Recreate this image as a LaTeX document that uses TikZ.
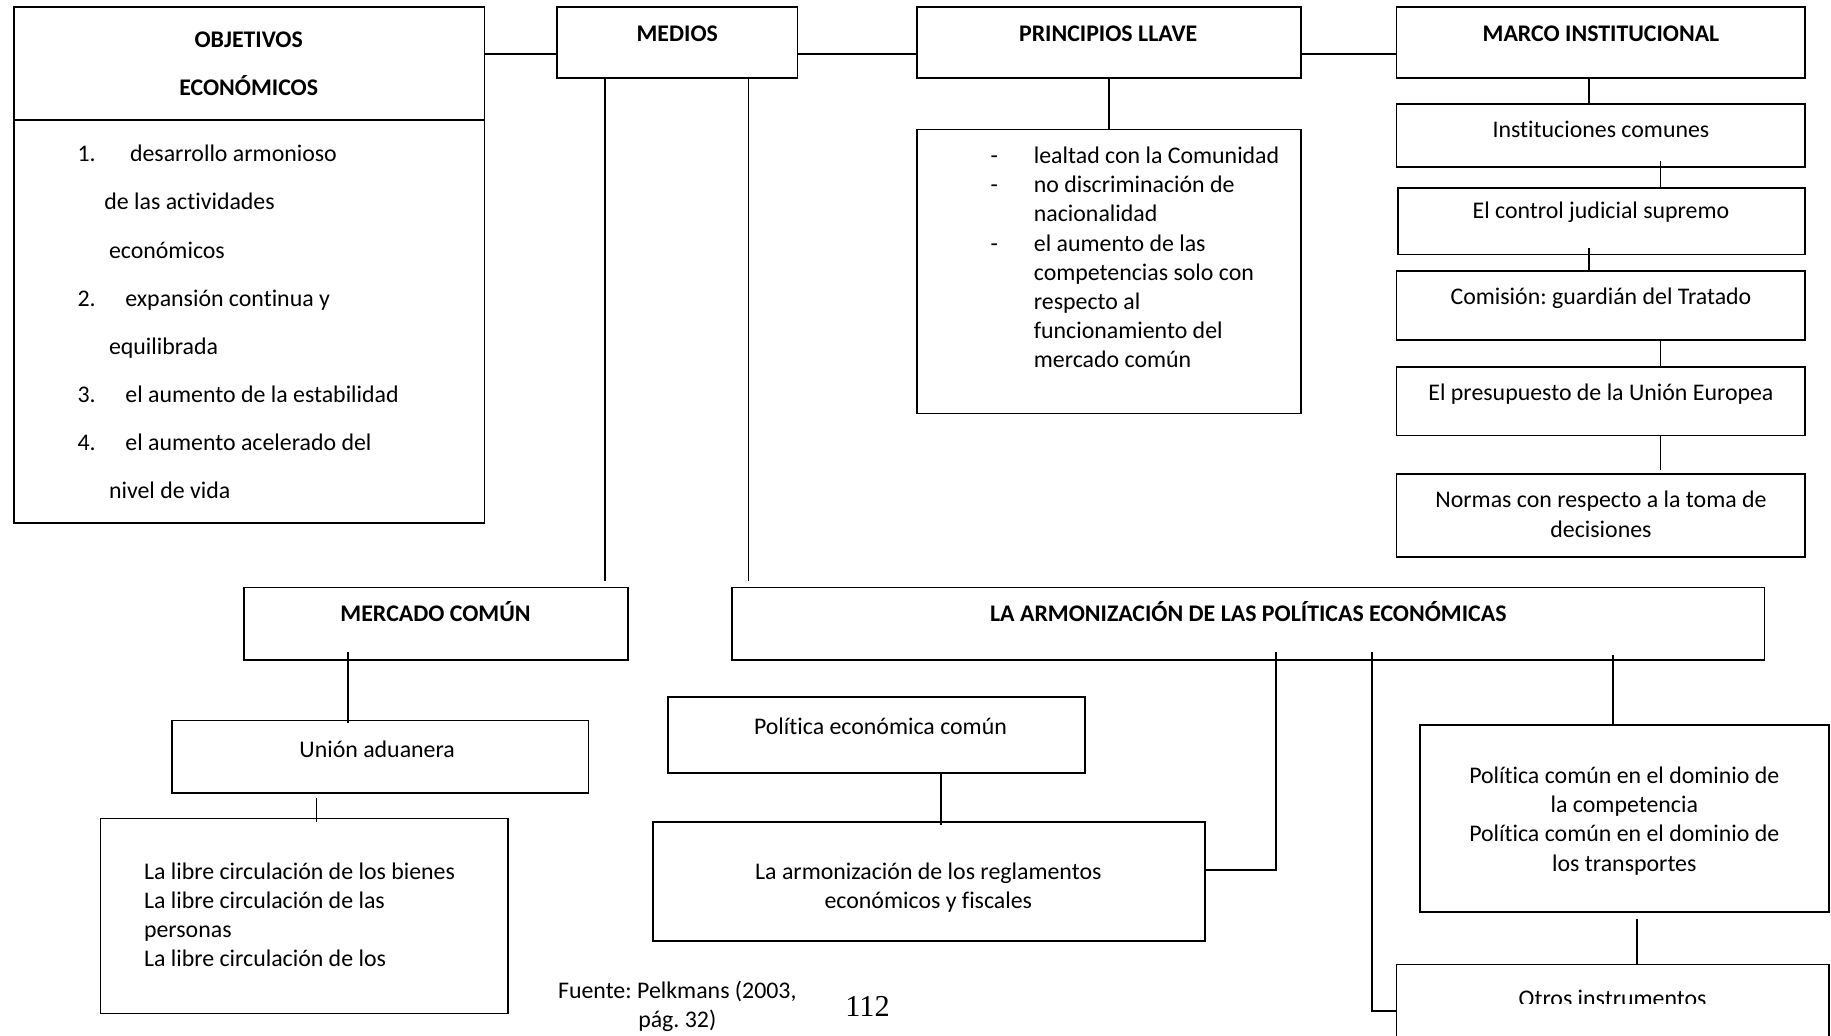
\documentclass[tikz,border=0pt]{standalone}
\usepackage{fontspec}
\setmainfont{Carlito}[Ligatures=NoCommon]
\newfontfamily\serifnum{Liberation Serif}
\frenchspacing
\usetikzlibrary{fit,calc}
\newlength\pxu
\setlength\pxu{0.01892cm}
\tikzstyle{box}=[draw, line width=0.8pt, inner sep=0pt]
\tikzstyle{edge}=[draw, line width=0.8pt]
\tikzstyle{txt}=[inner sep=0pt, anchor=base, align=center, font=\fontsize{11}{13.46}\selectfont]
\tikzstyle{title}=[txt, font=\fontsize{11}{13.46}\selectfont\bfseries]
\begin{document}
\begin{tikzpicture}[x=0.01892cm, y=-0.01892cm]
    \useasboundingbox (0,0) rectangle (1568,887);
    \clip (0,0) rectangle (1568,887);

    % the boxes
    \foreach \name/\xa/\ya/\xb/\yb in {objet/12/6/415/448, medios/477/6/683/67,
        princ/785/6/1114/67, marco/1196/6/1546/67, lista/785/111/1114/354,
        inst/1196/89/1546/143, judic/1197/161/1546/218, comis/1196/232/1546/291,
        presu/1196/314/1546/373, normas/1196/406/1546/477,
        mercado/209/503/538/565, union/147/617/504/679, libre/86/701/435/868,
        armon/627/503/1511/565, polec/572/597/929/662, reglam/559/704/1032/806,
        polcom/1216/621/1566/781, otros/1196/826/1566/900}
        \node[box, fit={(\xa,\ya) (\xb,\yb)}] (\name) {};

    \draw[edge] (objet.west |- 0,103) -- (objet.east |- 0,103);

    % top row
    \foreach \source/\dest in {objet/medios, medios/princ, princ/marco}
        \path[edge] (\source.east |- 0,46) -- (\dest.west |- 0,46);
    \path[edge] (princ.south) -- (lista.north);

    % vertical links
    \foreach \source/\dest/\xpos/\sa/\sb in {marco/inst/1361/0/0, inst/judic/1422/-6/0,
        judic/comis/1361/-6/0, comis/presu/1422/0/0, presu/normas/1422/0/3,
        medios/mercado/518/0/5, medios/armon/641/0/5, mercado/union/298/-7/-3,
        union/libre/271/4/-4, polec/reglam/806/0/-3, armon/polcom/1381/-5/0,
        polcom/otros/1402/5/0}
        \path[edge, shorten <=\sa\pxu, shorten >=\sb\pxu] (\source.south -| \xpos,0) -- (\dest.north -| \xpos,0);

    \draw[edge, shorten <=-7\pxu] (armon.south -| 1093,0) |- (reglam.east |- 0,745);
    \draw[edge, shorten <=-7\pxu] (armon.south -| 1175,0) |- (otros.west |- 0,866);

    % headings
    \foreach \name/\xc/\yb/\words in {medios/580/35.5/MEDIOS, princ/949/35.5/PRINCIPIOS LLAVE,
        marco/1371/35.5/MARCO INSTITUCIONAL, mercado/373/532.5/MERCADO COMÚN,
        armon/1069/532.5/LA ARMONIZACIÓN DE LAS POLÍTICAS ECONÓMICAS}
        \node[title] (\name-t) at (\xc,\yb) {\words};
    \node[title, font=\fontsize{11}{22.07}\selectfont\bfseries] (objet-t) at (213,81.5) {OBJETIVOS\\ECONÓMICOS};

    % one-line texts
    \foreach \name/\xc/\yb/\words in {inst/1371/118/Instituciones comunes,
        judic/1371/187/El control judicial supremo, comis/1371/261/Comisión: guardián del Tratado,
        presu/1371/343/El presupuesto de la Unión Europea, union/323/649/Unión aduanera,
        polec/754/629/Política económica común}
        \node[txt] (\name-t) at (\xc,\yb) {\words};

    \node[txt] (normas-t) at (1371,460) {Normas con respecto a la toma de\\decisiones};
    \node[txt] (reglam-t) at (795,778) {La armonización de los reglamentos\\económicos y fiscales};
    \node[txt] (polcom-t) at (1391,746) {Política común en el dominio de\\la competencia\\Política común en el dominio de\\los transportes};
    \begin{scope}
        \clip (otros.north west) rectangle (1566,859);
        \node[txt] (otros-t) at (1381,862) {Otros instrumentos};
    \end{scope}

    % lists
    \node[txt, anchor=base west, align=left, font=\fontsize{11}{22.18}\selectfont] (objet-l) at (66,427) {%
        \makebox[45\pxu][l]{1.}desarrollo armonioso\\
        \hspace*{23\pxu}de las actividades\\
        \hspace*{27\pxu}económicos\\
        \makebox[41\pxu][l]{2.}expansión continua y\\
        \hspace*{27\pxu}equilibrada\\
        \makebox[41\pxu][l]{3.}el aumento de la estabilidad\\
        \makebox[41\pxu][l]{4.}el aumento acelerado del\\
        \hspace*{27\pxu}nivel de vida};
    \node[txt, anchor=base west, align=left] (lista-t) at (848,315) {%
        \makebox[37\pxu][l]{-}lealtad con la Comunidad\\
        \makebox[37\pxu][l]{-}no discriminación de\\
        \hspace*{37\pxu}nacionalidad\\
        \makebox[37\pxu][l]{-}el aumento de las\\
        \hspace*{37\pxu}competencias solo con\\
        \hspace*{37\pxu}respecto al\\
        \hspace*{37\pxu}funcionamiento del\\
        \hspace*{37\pxu}mercado común};
    \node[txt, anchor=base west, align=left] (libre-t) at (123,828) {%
        La libre circulación de los bienes\\
        La libre circulación de las\\
        personas\\
        La libre circulación de los};

    % source and page
    \node[txt] (fuente) at (580,880) {Fuente: Pelkmans (2003,\\pág. 32)};
    \node[txt, font=\serifnum\fontsize{14}{16}\selectfont] (pagina) at (743,870.5) {112};
\end{tikzpicture}
\end{document}
